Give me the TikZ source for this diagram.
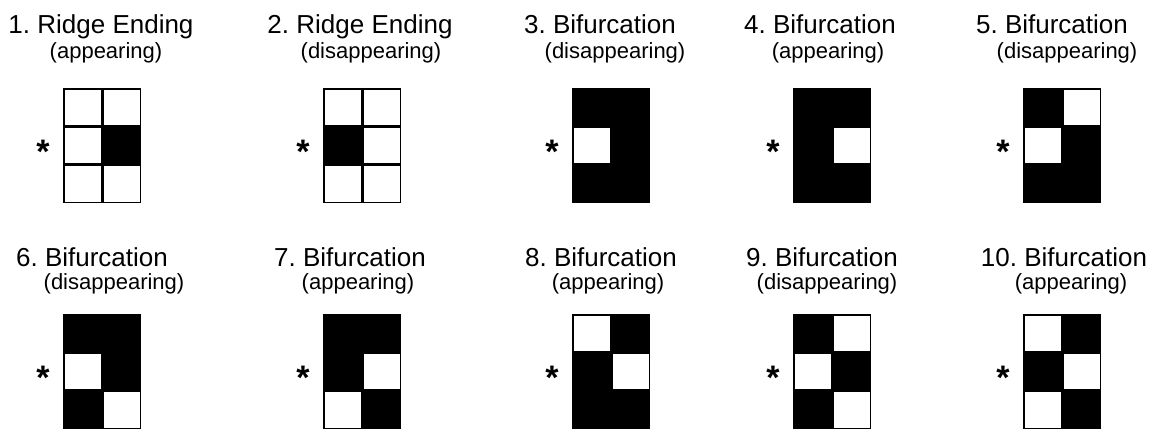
\documentclass[tikz,border=0pt]{standalone}
\usepackage{fontspec}
\setmainfont{Liberation Sans}
\frenchspacing

\tikzset{
  cellblack/.style={fill=black},
  cellwhite/.style={draw=black,fill=white,line width=1.5pt},
  titletext/.style={anchor=base,inner sep=0pt,font=\fontsize{26}{30}\selectfont},
  subtext/.style={anchor=base,inner sep=0pt,font=\fontsize{22}{26}\selectfont},
  startext/.style={anchor=north,inner sep=0pt,font=\fontsize{34}{40}\selectfont\bfseries},
}

\begin{document}
\begin{tikzpicture}[x=1pt,y=-1pt]
  \useasboundingbox (0,0) rectangle (1150,429);

  % labels: title x / title base / sub x / sub base / texts
  \foreach \tx/\ty/\sx/\sy/\txt/\sub [count=\n] in {
      101/33/106/58/{1. Ridge Ending}/{(appearing)},
      360/33/371/58/{2. Ridge Ending}/{(disappearing)},
      600/33/615/58/{3. Bifurcation}/{(disappearing)},
      820/33/828/58/{4. Bifurcation}/{(appearing)},
      1052/33/1067/58/{5. Bifurcation}/{(disappearing)},
      92/266/114/289/{6. Bifurcation}/{(disappearing)},
      350/266/358/289/{7. Bifurcation}/{(appearing)},
      601/266/608/289/{8. Bifurcation}/{(appearing)},
      822/266/827/289/{9. Bifurcation}/{(disappearing)},
      1064/266/1071/289/{10. Bifurcation}/{(appearing)}} {
    \node[titletext] (title\n) at (\tx,\ty) {\txt};
    \node[subtext] (sub\n) at (\sx,\sy) {\sub};
  }

  % grids: left / top / cells row by row (1 = black)
  \foreach \gl/\gt/\cells [count=\n] in {
      63/88/{0,0,0,1,0,0}, 323/88/{0,0,1,0,0,0}, 572/88/{1,1,0,1,1,1},
      793/88/{1,1,1,0,1,1}, 1023/88/{1,0,0,1,1,1},
      63/314/{1,1,0,1,1,0}, 323/314/{1,1,1,0,0,1}, 572/314/{0,1,1,0,1,1},
      793/314/{1,0,0,1,1,0}, 1023/314/{0,1,1,0,0,1}} {
    \foreach \c [count=\i from 0] in \cells {
      \pgfmathtruncatemacro{\col}{mod(\i,2)}
      \pgfmathtruncatemacro{\row}{int(\i/2)}
      \pgfmathsetmacro{\cx}{\gl+39*\col}
      \pgfmathsetmacro{\cy}{\gt+115/3*\row}
      \ifnum\c=1
        \fill[cellblack] (\cx,\cy) rectangle ++(39,115/3);
      \else
        \draw[cellwhite] (\cx+0.75,\cy+0.75) rectangle ++(37.5,115/3-1.5);
      \fi
    }
    \node[startext] (star\n) at (\gl-20,\gt+52) {*};
  }
\end{tikzpicture}
\end{document}
